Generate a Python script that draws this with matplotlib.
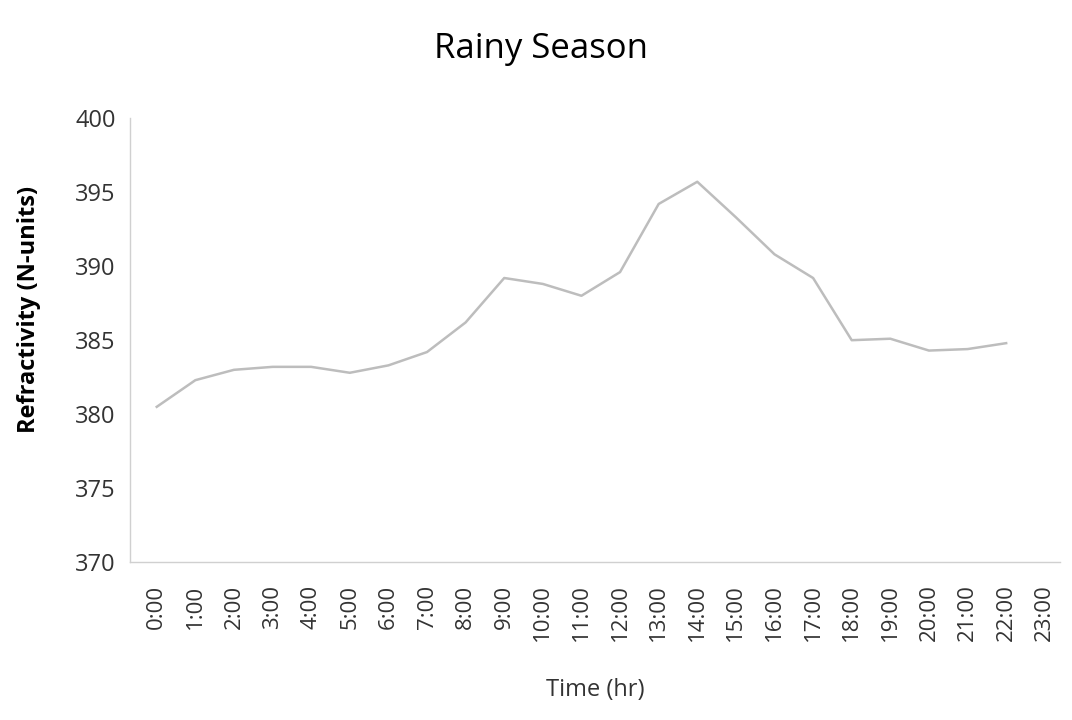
import matplotlib.pyplot as plt
import numpy as np

# 数据（从扫描图中估读）
hours = ['%d:00' % h for h in range(24)]
refractivity = [380.5, 382.3, 383.0, 383.2, 383.2, 382.8, 383.3, 384.2,
                386.2, 389.2, 388.8, 388.0, 389.6, 394.2, 395.7, 393.3,
                390.8, 389.2, 385.0, 385.1, 384.3, 384.4, 384.8, np.nan]
y_ticks = [370, 375, 380, 385, 390, 395, 400]

plt.rcParams['font.family'] = ['Open Sans', 'DejaVu Sans']

fig = plt.figure(figsize=(10.72, 7.2), dpi=100)
ax = fig.add_axes([0.121, 0.219, 0.868, 0.617])

x = np.arange(len(hours))
ax.plot(x, refractivity, color='#bdbdbd', linewidth=1.8)

ax.set_ylim(370, 400)
ax.set_yticks(y_ticks)
ax.set_xlim(-0.7, 23.4)
ax.set_xticks(x)
ax.set_xticklabels(hours, rotation=90, fontsize=16, color='#333333')
ax.tick_params(axis='y', labelsize=17, colors='#333333', length=0, pad=10)
ax.tick_params(axis='x', length=0, pad=16)

for s in ['top', 'right']:
    ax.spines[s].set_visible(False)
for s in ['left', 'bottom']:
    ax.spines[s].set_color('#d0d0d0')
    ax.spines[s].set_linewidth(1.0)

# 纵轴标题
ax.set_ylabel('Refractivity (N-units)', fontsize=17, fontweight='bold')
ax.yaxis.set_label_coords(-0.095, 0.57)
ax.set_xlabel('Time (hr)', fontsize=17, color='#333333', labelpad=26)
fig.suptitle('Rainy Season', fontsize=25, x=0.505, y=0.955)

plt.savefig('out.png', dpi=100)
